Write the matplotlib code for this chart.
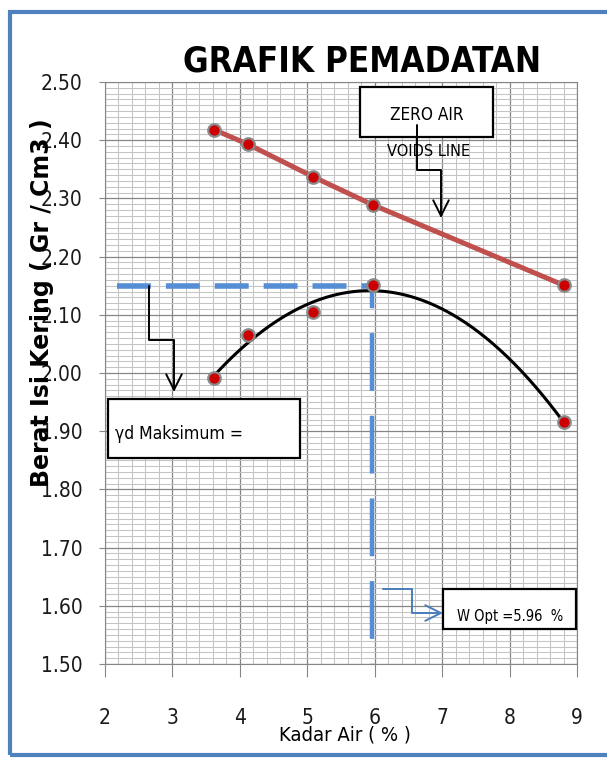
import numpy as np
import matplotlib
matplotlib.use("Agg")
import matplotlib.pyplot as plt
from matplotlib import font_manager
from matplotlib.patches import Rectangle, FancyArrowPatch
from matplotlib.path import Path
from matplotlib.transforms import Affine2D
from matplotlib.ticker import MultipleLocator, FormatStrFormatter

# data
water_content = [3.62, 4.12, 5.09, 5.97, 8.80]      # Kadar Air (%)
dry_density = [1.991, 2.065, 2.105, 2.151, 1.915]   # Berat Isi Kering
zav_density = [2.418, 2.393, 2.337, 2.289, 2.151]   # zero air voids line
w_opt = 5.96
yd_max = 2.15
x_ticks = [2, 3, 4, 5, 6, 7, 8, 9]
y_ticks = [1.5, 1.6, 1.7, 1.8, 1.9, 2.0, 2.1, 2.2, 2.3, 2.4, 2.5]

W, H = 607, 759


def find_narrow():
    # look for a condensed sans face (the chart uses a tall narrow font)
    for f in font_manager.fontManager.ttflist:
        st = f.stretch
        cond = ("condensed" in st) if isinstance(st, str) else st < 500
        if "Narrow" in f.name or "Condensed" in f.name or cond:
            if "Mono" not in f.name and "Serif" not in f.name:
                return f.name
    return None


narrow = find_narrow()
if narrow:
    plt.rcParams["font.family"] = [narrow, "DejaVu Sans"]
    plt.rcParams["font.stretch"] = "condensed"
else:
    plt.rcParams["font.family"] = ["Liberation Sans", "DejaVu Sans"]

fig = plt.figure(figsize=(W / 100, H / 100), dpi=100)
# pixel coords of the source image (y down) -> figure
pix = Affine2D().scale(1 / W, -1 / H).translate(0, 1) + fig.transFigure

ax = fig.add_axes([105 / W, 1 - 664 / H, 472 / W, 582 / H])
ax.set_xlim(x_ticks[0], x_ticks[-1])
ax.set_ylim(y_ticks[0], y_ticks[-1])
ax.set_xticks(x_ticks)
ax.set_yticks(y_ticks)
ax.yaxis.set_major_formatter(FormatStrFormatter("%.2f"))
ax.xaxis.set_minor_locator(MultipleLocator(0.2))
ax.yaxis.set_minor_locator(MultipleLocator(0.01))
ax.grid(which="minor", color="#c4c4c4", lw=0.75)
ax.grid(which="major", color="#868686", lw=0.9)
ax.set_axisbelow(True)
for s in ax.spines.values():
    s.set_color("#868686")
ax.tick_params(axis="x", which="major", direction="out", length=9, color="#868686",
               pad=23, labelsize=15, labelcolor="#1a1a1a")
ax.tick_params(axis="y", which="major", direction="out", length=4, color="#868686",
               pad=12, labelsize=15, labelcolor="#1a1a1a")
ax.tick_params(which="minor", length=0)

# blue guide lines for optimum
ax.plot([2.18, w_opt], [yd_max, yd_max], color="#558ed5", lw=4,
        ls=(0, (6.1, 2.7)), solid_capstyle="butt", zorder=2)
ax.plot([w_opt, w_opt], [yd_max, y_ticks[0]], color="#558ed5", lw=3.2,
        ls=(8.0, (13.0, 5.6)), solid_capstyle="butt", zorder=2)

# zero air voids line
ax.plot(water_content, zav_density, color="#c0504d", lw=3.6, zorder=3)
ax.plot(water_content, zav_density, "o", ms=9, mfc="#cc0000", mec="#8a8a8a",
        mew=1.6, zorder=5)

# compaction curve (2nd order trendline)
coef = np.polyfit(water_content, dry_density, 2)
xs = np.linspace(min(water_content), max(water_content), 200)
ax.plot(xs, np.polyval(coef, xs), color="black", lw=2.2, zorder=4)
ax.plot(water_content, dry_density, "o", ms=9, mfc="#cc0000", mec="#8a8a8a",
        mew=1.6, zorder=5)

ax.set_xlabel("Kadar Air ( % )", fontsize=14.5)
ax.xaxis.set_label_coords(0.508, -0.122)
ax.xaxis.label.set_va("center")
ax.set_ylabel("Berat Isi Kering ( Gr / Cm3 )", fontsize=17, fontweight="bold",
              family="DejaVu Sans", stretch="normal")
ax.yaxis.set_label_coords(-0.1335, 0.62)
ax.yaxis.label.set_va("center")

fig.text(362 / W, 1 - 62 / H, "GRAFIK PEMADATAN", ha="center", va="center",
         fontsize=25, fontweight="bold")


def box(x0, y0, x1, y1):
    fig.add_artist(Rectangle((x0, y1), x1 - x0, y0 - y1, transform=pix,
                             fc="white", ec="black", lw=1.6, zorder=6))


def connector(pts, color):
    fig.add_artist(FancyArrowPatch(path=Path(pts), transform=pix, arrowstyle="->",
                                   mutation_scale=28, color=color, lw=1.4, zorder=7))


box(360, 87, 493, 137)
fig.text(427 / W, 1 - 115 / H, "ZERO AIR", ha="center", va="center",
         fontsize=12.3, zorder=8)
fig.text(429 / W, 1 - 152 / H, "VOIDS LINE", ha="center", va="center",
         fontsize=11.7, zorder=8)
connector([(417, 125), (417, 170), (441, 170), (441, 218)], "black")

box(108, 399, 300, 458)
fig.text(115 / W, 1 - 434 / H, "γd Maksimum =", ha="left", va="center",
         fontsize=12.6, zorder=8)
connector([(149, 286), (149, 340), (174, 340), (174, 392)], "black")

box(443, 589, 576, 629)
fig.text(510 / W, 1 - 616 / H, "W Opt =5.96  %", ha="center", va="center",
         fontsize=10.5, zorder=8)
connector([(383, 589), (412, 589), (412, 613), (443, 613)], "#4a7ebb")

# outer chart border
fig.add_artist(Rectangle((10, 755), 630, -743, transform=pix, fill=False,
                         ec="#4f81bd", lw=3, zorder=9, clip_on=False))

fig.savefig("out.png", dpi=100)
